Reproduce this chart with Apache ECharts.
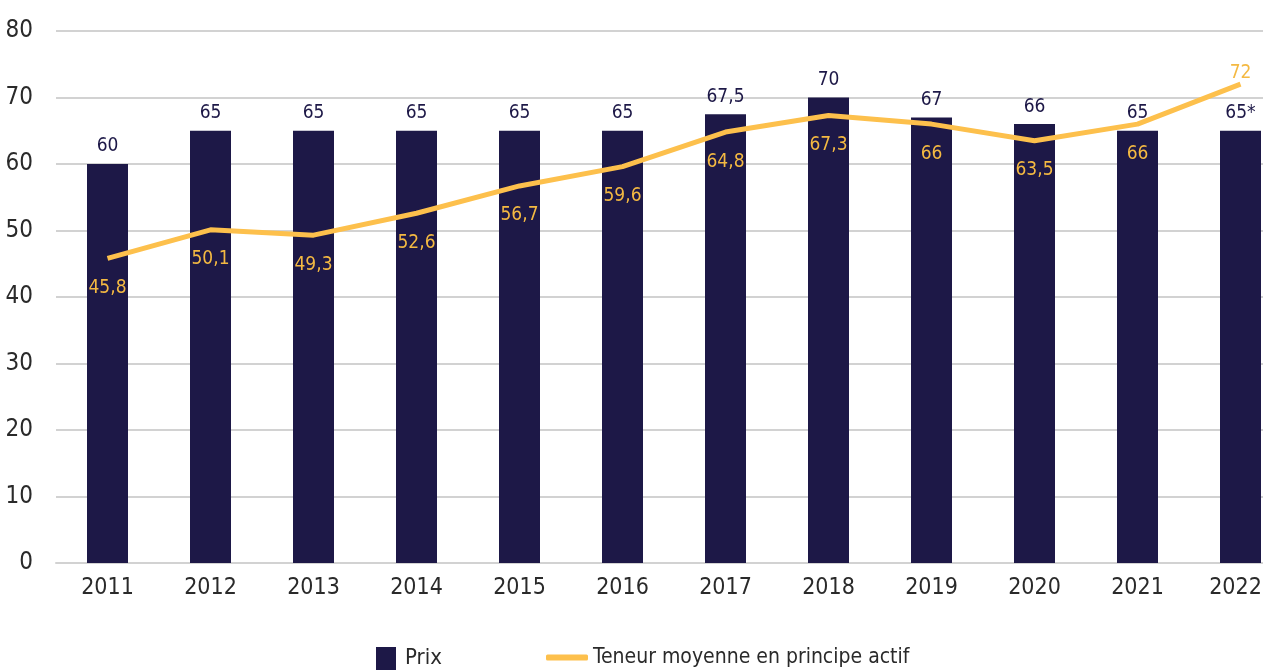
<!DOCTYPE html>
<html>
<head>
<meta charset="utf-8">
<script src="https://cdn.jsdelivr.net/npm/echarts@6/dist/echarts.min.js"></script>
<style>
html,body{margin:0;padding:0;background:#fff;}
#chart{width:1263px;height:671px;}
</style>
</head>
<body>
<div id="chart"></div>
<script>
const years = ['2011','2012','2013','2014','2015','2016','2017','2018','2019','2020','2021','2022'];
const prix = [60, 65, 65, 65, 65, 65, 67.5, 70, 67, 66, 65, 65];
const prixLabels = ['60','65','65','65','65','65','67,5','70','67','66','65','65*'];
const teneur = [45.8, 50.1, 49.3, 52.6, 56.7, 59.6, 64.8, 67.3, 66, 63.5, 66, 72];
const teneurLabelAbove = [false,false,false,false,false,false,false,false,false,false,false,true];
const yTicks = [0, 10, 20, 30, 40, 50, 60, 70, 80];
const seriesNames = ['Prix', 'Teneur moyenne en principe actif'];

const FONT = "'Liberation Sans Narrow','DejaVu Sans Condensed','Roboto Condensed',sans-serif";
const NAVY = '#1d1847';
const GOLD = '#fdc04c';
const GOLD_TXT = '#f4b942';

const chart = echarts.init(document.getElementById('chart'));
chart.setOption({
  animation: false,
  backgroundColor: '#fff',
  textStyle: { fontFamily: FONT },
  grid: { left: 56, width: 1236, top: 31, height: 532, containLabel: false, outerBoundsMode: 'none' },
  legend: [
    {
      data: [seriesNames[0]], left: 371, top: 642,
      icon: 'rect', itemWidth: 20, itemHeight: 23, itemGap: 10,
      textStyle: { fontFamily: FONT, fontSize: 22, color: '#2a2a2a', padding: [0, 0, 0, 4] }
    },
    {
      data: [seriesNames[1]], left: 541, top: 642,
      icon: 'roundRect', itemWidth: 42, itemHeight: 6, itemGap: 10,
      textStyle: { fontFamily: FONT, fontSize: 21, color: '#2a2a2a' }
    }
  ],
  xAxis: {
    type: 'category',
    data: years,
    axisLine: { show: true, lineStyle: { color: '#d2d2d2', width: 2 } },
    axisTick: { show: false },
    axisLabel: {
      interval: 0, hideOverlap: false,
      fontFamily: FONT, fontSize: 23, color: '#2a2a2a', margin: 14,
      formatter: (v, i) => i === years.length - 1 ? '{last|' + v + '}' : v,
      rich: { last: { fontFamily: FONT, fontSize: 23, color: '#2a2a2a', padding: [0, 10, 0, 0] } }
    }
  },
  yAxis: {
    type: 'value',
    min: yTicks[0], max: yTicks[yTicks.length-1], interval: 10,
    axisLine: { show: false },
    axisTick: { show: false },
    splitLine: { lineStyle: { color: '#d2d2d2', width: 2 } },
    axisLabel: { fontFamily: FONT, fontSize: 24, color: '#2a2a2a', margin: 23 }
  },
  series: [
    {
      name: seriesNames[0],
      type: 'bar',
      data: prix,
      barWidth: 41,
      itemStyle: { color: NAVY },
      label: {
        show: true, position: 'top', distance: 8,
        fontFamily: FONT, fontSize: 19, color: NAVY,
        formatter: p => prixLabels[p.dataIndex]
      },
      z: 2
    },
    {
      name: seriesNames[1],
      type: 'line',
      data: teneur.map((v, i) => ({
        value: v,
        label: teneurLabelAbove[i]
          ? { position: 'top', distance: 2 }
          : { position: 'bottom', distance: 20 }
      })),
      symbol: 'circle',
      symbolSize: 0.1,
      showSymbol: true,
      lineStyle: { color: GOLD, width: 5 },
      itemStyle: { color: GOLD },
      label: {
        show: true,
        fontFamily: FONT, fontSize: 19, color: GOLD_TXT,
        formatter: p => String(p.value).replace('.', ',')
      },
      z: 3
    }
  ]
});
</script>
</body>
</html>
